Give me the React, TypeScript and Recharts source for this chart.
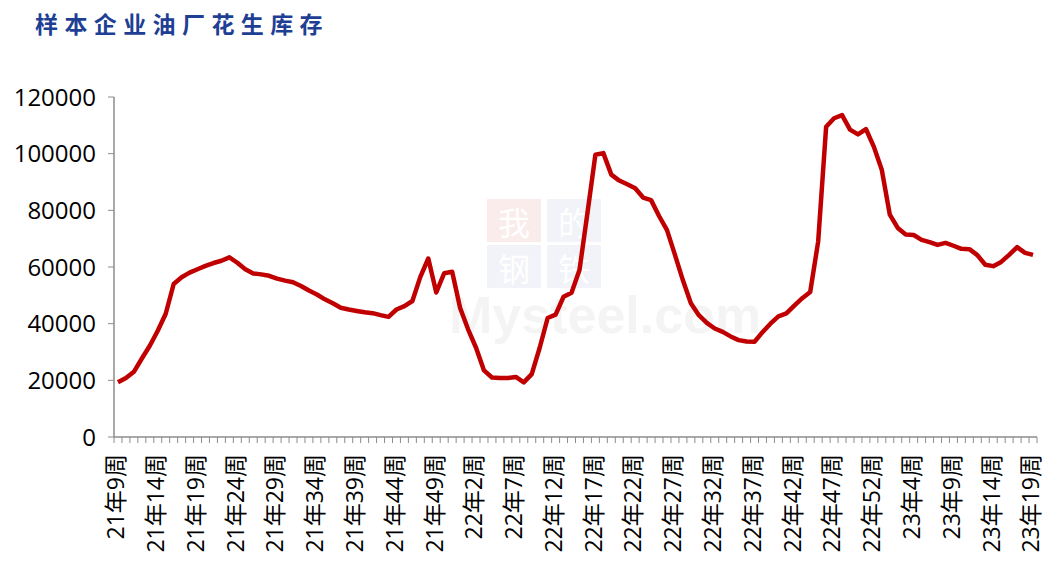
import React from 'react';
import { LineChart, Line, XAxis, YAxis } from 'recharts';

// ---- data ----
const yearPrefixes = ['21', '22', '23'];
const firstWeeks = [9, 1, 1];
const lastWeeks = [52, 53, 19];

const categories: string[] = [];
yearPrefixes.forEach((yr, k) => {
  for (let w = firstWeeks[k]; w <= lastWeeks[k]; w++) categories.push(`${yr}年${w}周`);
});

// 样本企业油厂花生库存 (吨)
const inventory2021 = [
  19300, 20800, 23000, 27700, 32200, 37500, 43500, 54000, 56400, 58000,
  59200, 60400, 61400, 62200, 63400, 61500, 59200, 57700, 57400, 56900,
  55900, 55200, 54600, 53300, 51700, 50300, 48600, 47200, 45600, 45000,
  44500, 44000, 43700, 43000, 42400, 45000, 46200, 48000, 56500, 63000,
  51000, 57800, 58300, 45500,
];
const inventory2022 = [
  38000, 31500, 23500, 21000, 20800, 20800, 21200, 19300, 22200, 31500,
  42000, 43200, 49500, 50900, 58900, 79000, 99600, 100200, 92600, 90500,
  89200, 87800, 84500, 83600, 78000, 73000, 64300, 55300, 47200, 43000,
  40300, 38300, 37100, 35500, 34200, 33700, 33600, 37000, 40000, 42600,
  43600, 46400, 49000, 51200, 69000, 109500, 112500, 113600, 108500, 106800,
  108700, 102400, 94200,
];
const inventory2023 = [
  78500, 73800, 71500, 71300, 69600, 68800, 67800, 68500, 67500, 66400,
  66300, 64200, 60800, 60300, 61800, 64300, 67000, 65000, 64300,
];
const inventory = [...inventory2021, ...inventory2022, ...inventory2023];

const yTicks = [0, 20000, 40000, 60000, 80000, 100000, 120000];
const labelEvery = 5;

const data = categories.map((c, i) => ({ week: c, value: inventory[i] }));

// ---- layout ----
const W = 1048;
const H = 568;
const PLOT_LEFT = 114;
const PLOT_RIGHT = 1037;
const PLOT_TOP = 97;
const PLOT_BOTTOM = 437;
const Y_AXIS_W = 100;
const BAND = (PLOT_RIGHT - PLOT_LEFT) / categories.length;
const AXIS_COLOR = '#8c8c8c';
const FONT = '"Open Sans", "Noto Sans CJK SC", sans-serif';

const XTick = (props: any) => {
  const { x, y, payload, index } = props;
  const isLast = index === categories.length - 1;
  return (
    <g>
      <line x1={x - BAND / 2} x2={x - BAND / 2} y1={y} y2={y + 6} stroke={AXIS_COLOR} strokeWidth={1} />
      {isLast && (
        <line x1={x + BAND / 2} x2={x + BAND / 2} y1={y} y2={y + 6} stroke={AXIS_COLOR} strokeWidth={1} />
      )}
      {index % labelEvery === 0 && (
        <text
          x={x - 2}
          y={y + 17}
          transform={`rotate(-90, ${x - 2}, ${y + 17})`}
          textAnchor="end"
          dy="0.36em"
          fontSize={23}
          fontFamily={FONT}
          fill="#000"
        >
          {payload.value}
        </text>
      )}
    </g>
  );
};

const wmBox = { position: 'absolute' as const, width: 54, height: 43 };
const wmChar = {
  position: 'absolute' as const,
  fontFamily: '"Noto Sans CJK SC"',
  fontSize: 32,
  lineHeight: '34px',
  width: 54,
  textAlign: 'center' as const,
  color: '#fff',
};

export default function App() {
  return (
    <div style={{ position: 'absolute', left: 0, top: 0, width: W, height: H, background: '#fff', overflow: 'hidden' }}>
      {/* watermark */}
      <div style={{ ...wmBox, left: 487, top: 199, background: '#fbecec' }} />
      <div style={{ ...wmBox, left: 547, top: 199, background: '#f1f3f8' }} />
      <div style={{ ...wmBox, left: 487, top: 245, background: '#f1f3f8' }} />
      <div style={{ ...wmBox, left: 547, top: 245, background: '#f1f3f8' }} />
      <div style={{ ...wmChar, left: 487, top: 204 }}>我</div>
      <div style={{ ...wmChar, left: 547, top: 204 }}>的</div>
      <div style={{ ...wmChar, left: 487, top: 250 }}>钢</div>
      <div style={{ ...wmChar, left: 547, top: 250 }}>铁</div>
      <div style={{ position: 'absolute', left: 449, top: 292, fontFamily: '"Liberation Sans", sans-serif', fontWeight: 700, fontSize: 52, lineHeight: '46px', color: '#f4f4f4', whiteSpace: 'nowrap' }}>
        Mysteel.com
      </div>

      <div style={{ position: 'absolute', left: 35, top: 5, fontFamily: '"Noto Sans CJK SC", sans-serif', fontWeight: 700, fontSize: 23, letterSpacing: 6.4, color: '#1f3f94', lineHeight: '36px', whiteSpace: 'nowrap' }}>
        样本企业油厂花生库存
      </div>

      <div style={{ position: 'absolute', left: 0, top: 0 }}>
        <LineChart
          width={W}
          height={H}
          data={data}
          margin={{ top: PLOT_TOP, right: W - PLOT_RIGHT, bottom: 0, left: PLOT_LEFT - Y_AXIS_W }}
        >
          <XAxis
            dataKey="week"
            interval={0}
            tick={<XTick />}
            tickLine={false}
            tickSize={0}
            tickMargin={0}
            height={H - PLOT_BOTTOM}
            padding={{ left: BAND / 2, right: BAND / 2 }}
            axisLine={{ stroke: AXIS_COLOR, strokeWidth: 1.5 }}
          />
          <YAxis
            width={Y_AXIS_W}
            domain={[0, 120000]}
            ticks={yTicks}
            interval={0}
            tickSize={6}
            tickMargin={12}
            tickLine={{ stroke: AXIS_COLOR }}
            axisLine={{ stroke: AXIS_COLOR, strokeWidth: 1.5 }}
            tick={{ fontSize: 24, fontFamily: FONT, fill: '#000' }}
          />
          <Line
            type="linear"
            dataKey="value"
            stroke="#c00000"
            strokeWidth={4.5}
            dot={false}
            isAnimationActive={false}
            strokeLinejoin="round"
          />
        </LineChart>
      </div>
    </div>
  );
}
